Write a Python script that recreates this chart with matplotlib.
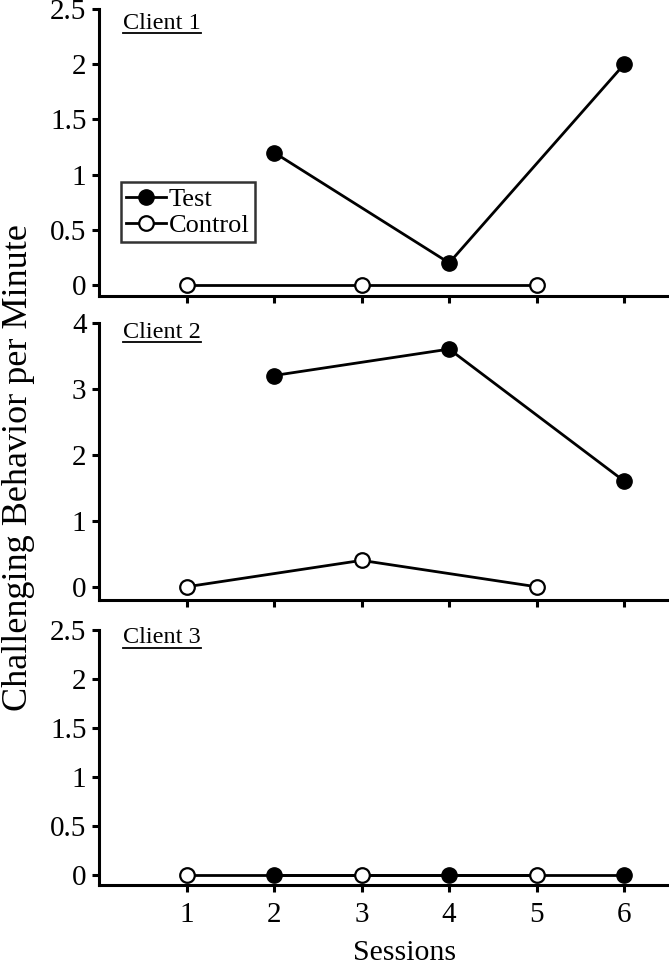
import matplotlib
matplotlib.use("Agg")
import matplotlib.pyplot as plt
from matplotlib.lines import Line2D
from matplotlib.ticker import FuncFormatter

# data
sessions_test = [2, 4, 6]
sessions_control = [1, 3, 5]
client_names = ["Client 1", "Client 2", "Client 3"]
test_values = [[1.2, 0.2, 2.0], [3.2, 3.6, 1.6], [0, 0, 0]]
control_values = [[0, 0, 0], [0, 0.4, 0], [0, 0, 0]]
y_limits = [(-0.1, 2.5), (-0.2, 4), (-0.1, 2.5)]
y_ticks = [[0, 0.5, 1, 1.5, 2, 2.5], [0, 1, 2, 3, 4], [0, 0.5, 1, 1.5, 2, 2.5]]
x_ticks = [1, 2, 3, 4, 5, 6]

plt.rcParams['font.family'] = ['Liberation Serif', 'DejaVu Serif']

fig = plt.figure(figsize=(6.69, 9.69), dpi=100)

# axes boxes in figure fractions (left, bottom, width, height)
boxes = [(0.148, 0.6945, 0.8505, 0.2962),
         (0.148, 0.3808, 0.8505, 0.2862),
         (0.148, 0.0867, 0.8505, 0.2632)]
label_y = [0.951, 0.966, 0.969]

axes = []
for i in range(3):
    ax = fig.add_axes(boxes[i])
    axes.append(ax)
    ax.plot(sessions_test, test_values[i], color='black', lw=2, marker='o',
            ms=11, mfc='black', mec='black', label='Test', zorder=3)
    ax.plot(sessions_control, control_values[i], color='black', lw=2, marker='o',
            ms=10.5, mfc='white', mec='black', mew=1.6, label='Control', zorder=3)
    ax.set_xlim(0, 6.5)
    ax.set_ylim(*y_limits[i])
    ax.set_yticks(y_ticks[i])
    ax.set_xticks(x_ticks)
    ax.yaxis.set_major_formatter(FuncFormatter(lambda v, p: '%g' % v))
    for s in ['top', 'right']:
        ax.spines[s].set_visible(False)
    for s in ['left', 'bottom']:
        ax.spines[s].set_linewidth(2.2)
    ax.spines['left'].set_bounds(y_limits[i][0], y_ticks[i][-1])
    ax.tick_params(direction='out', length=5, width=2.2, labelsize=21, pad=4)
    ax.tick_params(axis='x', pad=7)
    if i < 2:
        ax.tick_params(axis='x', labelbottom=False)
    ax.text(0.042, label_y[i], client_names[i], transform=ax.transAxes,
            fontsize=17.5, ha='left', va='center')

leg = axes[0].legend(loc='upper left', bbox_to_anchor=(0.039, 0.397), borderaxespad=0,
                     fontsize=19, frameon=True, fancybox=False, edgecolor='black',
                     handlelength=1.5, handletextpad=0.1, borderpad=0.2,
                     labelspacing=0.1)
leg.get_frame().set_linewidth(1.8)

fig.text(0.027, 0.517, 'Challenging Behavior per Minute', rotation=90,
         ha='center', va='center', fontsize=26)
fig.text(0.605, 0.003, 'Sessions', ha='center', va='bottom', fontsize=21.5)

# underline the client labels
fig.canvas.draw()
inv = fig.transFigure.inverted()
for ax in axes:
    for t in ax.texts:
        bb = t.get_window_extent().transformed(inv)
        yy = bb.y0 + 0.0008
        fig.add_artist(Line2D([bb.x0, bb.x1], [yy, yy], transform=fig.transFigure,
                              color='black', lw=1.3))

fig.savefig('out.png', dpi=100)
